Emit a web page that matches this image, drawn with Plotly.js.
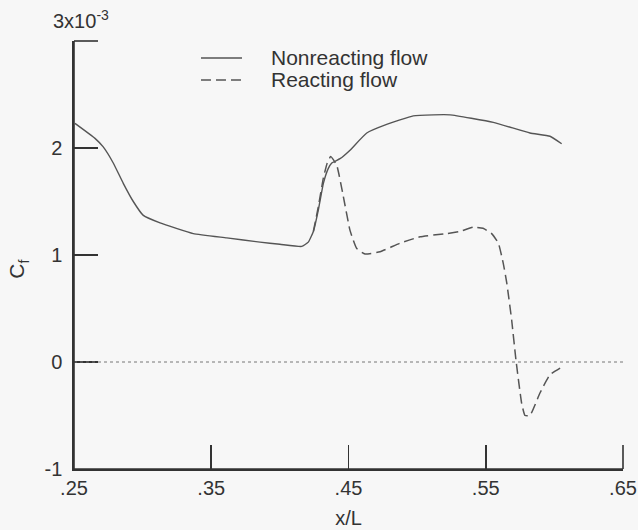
<!DOCTYPE html>
<html>
<head>
<meta charset="utf-8">
<script src="https://cdn.plot.ly/plotly-3.0.1.min.js"></script>
<style>html,body{margin:0;padding:0;background:#f7f7f7;}#chart{width:638px;height:530px;}</style>
</head>
<body>
<div id="chart"></div>
<script>
// Skin-friction coefficient, in units of 1e-3
const nonreactX = [0.2507, 0.2653, 0.2713, 0.2786, 0.2859, 0.2932, 0.3005, 0.3127, 0.3369, 0.3613, 0.3855, 0.400, 0.4159, 0.4207, 0.4244, 0.428, 0.4317, 0.4353, 0.4378, 0.4438, 0.4511, 0.4633, 0.4778, 0.4972, 0.5118, 0.524, 0.5555, 0.5822, 0.5968, 0.6053];
const nonreactY = [2.23, 2.09, 2.01, 1.86, 1.67, 1.50, 1.37, 1.30, 1.20, 1.16, 1.12, 1.10, 1.08, 1.12, 1.22, 1.42, 1.67, 1.81, 1.86, 1.90, 1.98, 2.14, 2.22, 2.30, 2.31, 2.31, 2.24, 2.14, 2.11, 2.04];

const reactX = [0.4244, 0.428, 0.4317, 0.4345, 0.437, 0.4414, 0.4462, 0.4511, 0.456, 0.462, 0.4730, 0.4875, 0.5021, 0.5215, 0.5312, 0.5409, 0.5480, 0.5543, 0.5592, 0.5628, 0.5653, 0.5689, 0.5720, 0.5762, 0.5786, 0.5822, 0.5895, 0.5968, 0.6065];
const reactY = [1.22, 1.45, 1.72, 1.86, 1.92, 1.84, 1.55, 1.23, 1.06, 1.01, 1.03, 1.11, 1.17, 1.20, 1.22, 1.26, 1.25, 1.20, 1.11, 0.92, 0.74, 0.39, 0.02, -0.39, -0.50, -0.50, -0.29, -0.12, -0.04];

const xTickVals = [0.25, 0.35, 0.45, 0.55, 0.65];
const xTickText = ['.25', '.35', '.45', '.55', '.65'];
const yTickVals = [-1, 0, 1, 2];
const yTickText = ['-1', '0', '1', '2'];
const yTopLabel = '3x10<sup>-3</sup>';

const seriesNames = ['Nonreacting flow', 'Reacting flow'];

const FONT = 'Liberation Sans, Arial, Helvetica, sans-serif';
const INK = '#333';
const CURVE = '#555';
const AXW = 1.6;

const traces = [
  {x: nonreactX, y: nonreactY, mode: 'lines', name: seriesNames[0],
   line: {color: CURVE, width: 1.4, shape: 'spline', smoothing: 0.4}, showlegend: false},
  {x: reactX, y: reactY, mode: 'lines', name: seriesNames[1],
   line: {color: CURVE, width: 1.5, dash: '10px,5px', shape: 'spline', smoothing: 0.4}, showlegend: false}
];

const legY = [0.9603, 0.9089];
const tickLenX = 24 / 549;  // inward tick length as paper fraction (horizontal)
const tickLenY = 24 / 428;  // inward tick length as paper fraction (vertical)

const layout = {
  width: 638, height: 530,
  margin: {l: 74, r: 15, t: 41, b: 61},
  paper_bgcolor: '#f7f7f7', plot_bgcolor: '#f7f7f7',
  font: {family: FONT, size: 20, color: INK},
  showlegend: false,
  xaxis: {
    range: [0.25, 0.65], tickvals: xTickVals, ticktext: xTickText,
    ticks: 'inside', ticklen: 24, tickwidth: AXW, tickcolor: INK,
    showline: true, linecolor: INK, linewidth: AXW, mirror: false,
    showgrid: false, zeroline: false,
    tickfont: {family: FONT, size: 20, color: INK},
    title: {text: 'x/L', font: {family: FONT, size: 20, color: INK}, standoff: 13}
  },
  yaxis: {
    range: [-1, 3], tickvals: yTickVals, ticktext: yTickText,
    ticks: 'inside', ticklen: 24, tickwidth: AXW, tickcolor: INK,
    showline: true, linecolor: INK, linewidth: AXW, mirror: false,
    showgrid: false, zeroline: false,
    ticklabelstandoff: 6,
    tickfont: {family: FONT, size: 20, color: INK}
  },
  shapes: [
    // dotted reference line at Cf = 0
    {type: 'line', xref: 'paper', x0: 0, x1: 1, yref: 'y', y0: 0, y1: 0,
     line: {color: '#777', width: 1, dash: 'dot'}},
    // axis frame (left and bottom) and end ticks
    {type: 'line', xref: 'paper', x0: 0, x1: 0, yref: 'paper', y0: 0, y1: 1,
     line: {color: INK, width: AXW}},
    {type: 'line', xref: 'paper', x0: 0, x1: 1, yref: 'paper', y0: 0, y1: 0,
     line: {color: INK, width: AXW}},
    {type: 'line', xref: 'paper', x0: 0, x1: tickLenX, yref: 'paper', y0: 1, y1: 1,
     line: {color: INK, width: AXW}},
    {type: 'line', xref: 'paper', x0: 1, x1: 1, yref: 'paper', y0: 0, y1: tickLenY,
     line: {color: INK, width: AXW}},
    // legend samples
    {type: 'line', xref: 'paper', x0: 0.2313, x1: 0.306, yref: 'paper', y0: legY[0], y1: legY[0],
     line: {color: CURVE, width: 1.4}},
    {type: 'line', xref: 'paper', x0: 0.2313, x1: 0.306, yref: 'paper', y0: legY[1], y1: legY[1],
     line: {color: CURVE, width: 1.5, dash: '10px,5px'}}
  ],
  annotations: [
    {text: seriesNames[0], xref: 'paper', yref: 'paper', x: 0.3552, y: legY[0],
     xanchor: 'left', yanchor: 'middle', showarrow: false, font: {family: FONT, size: 21, color: INK}},
    {text: seriesNames[1], xref: 'paper', yref: 'paper', x: 0.3552, y: legY[1],
     xanchor: 'left', yanchor: 'middle', showarrow: false, font: {family: FONT, size: 21, color: INK}},
    {text: yTopLabel, xref: 'paper', yref: 'paper', x: -0.042, y: 1.017,
     xanchor: 'left', yanchor: 'bottom', showarrow: false, font: {family: FONT, size: 20, color: INK}},
    {text: 'C<sub>f</sub>', xref: 'paper', yref: 'paper', x: -0.102, y: 0.468, textangle: -90,
     xanchor: 'center', yanchor: 'middle', showarrow: false, font: {family: FONT, size: 21, color: INK}}
  ]
};

Plotly.newPlot('chart', traces, layout, {staticPlot: true, displayModeBar: false});
</script>
</body>
</html>
